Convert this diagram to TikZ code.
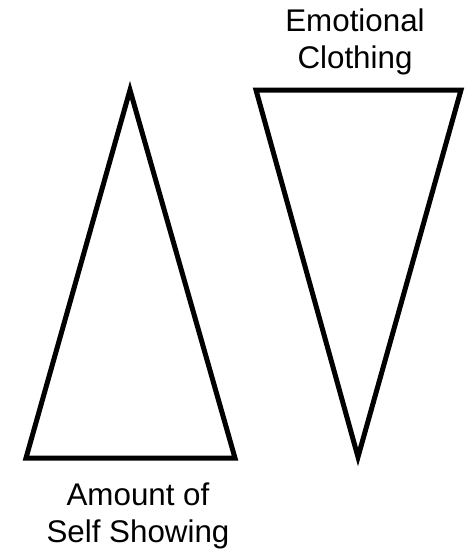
\documentclass[tikz,border=0pt]{standalone}
\usepackage{fontspec}
\setmainfont{Liberation Sans}
\usepackage{tikz}

\begin{document}
\begin{tikzpicture}[x=0.75pt, y=-0.75pt,
    tri/.style={line width=3.75pt, line join=miter},
    lbl/.style={align=center, font=\fontsize{23.5}{27.5}\selectfont, inner sep=0pt}]
    \useasboundingbox (0,0) rectangle (472,551);

    % Corners
    \coordinate (L1) at (26,458);
    \coordinate (L2) at (130,90);
    \coordinate (L3) at (235,458);
    \coordinate (R1) at (256,90);
    \coordinate (R2) at (461,90);
    \coordinate (R3) at (358,457);

    % Triangles
    \draw[tri] (L1) -- (L2) -- (L3) -- cycle;
    \draw[tri] (R1) -- (R2) -- (R3) -- cycle;

    % Labels
    \node[lbl] (clothing) at (355,42) {Emotional\\Clothing};
    \node[lbl] (showing) at (138,516) {Amount of\\Self Showing};
\end{tikzpicture}
\end{document}
